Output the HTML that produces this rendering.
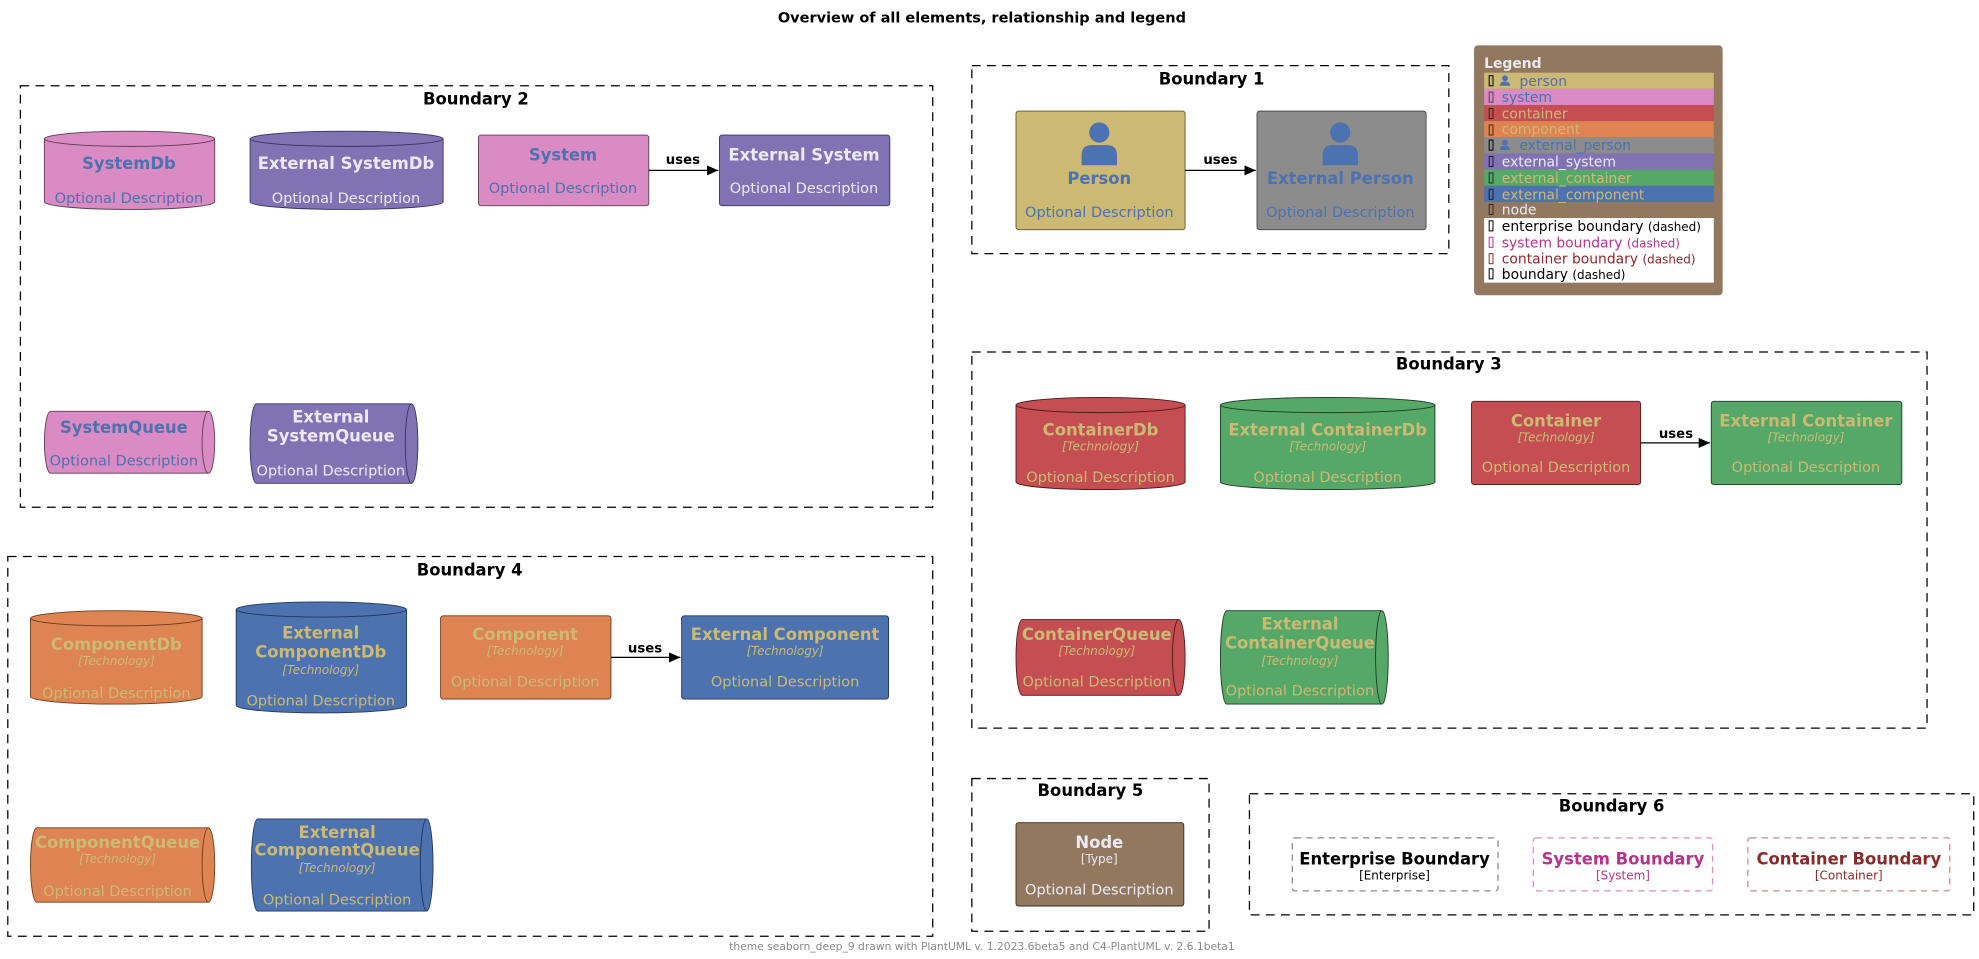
<!DOCTYPE html>
<html><head><meta charset="utf-8"><style>
html,body{margin:0;padding:0;background:#fff}
svg{display:block}
text{font-family:"DejaVu Sans","Liberation Sans",sans-serif}
.bt{font-size:13px;font-weight:bold;text-anchor:middle;fill:#000}
.t{font-size:13px;font-weight:bold;text-anchor:middle}
.d{font-size:11.5px;text-anchor:middle}
.k{font-size:9.5px;font-style:italic;text-anchor:middle}
.b{fill:none;stroke:#000;stroke-width:1;stroke-dasharray:7,5}
.u{font-size:10.5px;font-weight:bold;text-anchor:middle}
.lg{font-size:11px}
.qa{fill:none;stroke-width:0.7}
</style></head><body>
<svg width="1979" height="959" viewBox="0 0 1568 760" xmlns="http://www.w3.org/2000/svg">
<defs><marker id="ar" markerWidth="10" markerHeight="8" refX="9" refY="4" orient="auto" markerUnits="userSpaceOnUse"><path d="M0,0 L9,4 L0,8 Z" fill="#000"/></marker></defs>
<text x="778" y="18" class="u" style="font-size:11.5px">Overview of all elements, relationship and legend</text>

<!-- Boundary 2 -->
<rect x="16" y="68" width="723" height="334" class="b"/>
<text x="377" y="83" class="bt">Boundary 2</text>
<path d="M35,110 L35,160 A67.5,6 0 0 0 170,160 L170,110 A67.5,6 0 0 0 35,110 A67.5,6 0 0 0 170,110" fill="#DA8BC3" stroke="#5a3d50" stroke-width="0.7"/>
<text x="102" y="134" class="t" fill="#4C72B0">SystemDb</text>
<text x="102" y="161" class="d" fill="#4C72B0">Optional Description</text>
<path d="M198,110 L198,160 A76.5,6 0 0 0 351,160 L351,110 A76.5,6 0 0 0 198,110 A76.5,6 0 0 0 351,110" fill="#8172B3" stroke="#3a3260" stroke-width="0.7"/>
<text x="274" y="134" class="t" fill="#EAEAF2">External SystemDb</text>
<text x="274" y="161" class="d" fill="#EAEAF2">Optional Description</text>
<rect x="379" y="107" width="135" height="56" rx="2" fill="#DA8BC3" stroke="#5a3d50" stroke-width="0.7"/>
<text x="446" y="127" class="t" fill="#4C72B0">System</text>
<text x="446" y="153" class="d" fill="#4C72B0">Optional Description</text>
<rect x="570" y="107" width="135" height="56" rx="2" fill="#8172B3" stroke="#3a3260" stroke-width="0.7"/>
<text x="637" y="127" class="t" fill="#EAEAF2">External System</text>
<text x="637" y="153" class="d" fill="#EAEAF2">Optional Description</text>
<line x1="514" y1="135" x2="569" y2="135" stroke="#000" marker-end="url(#ar)"/>
<text x="541" y="130" class="u">uses</text>
<path d="M40,326 L165,326 A5,24.5 0 0 1 165,375 L40,375 A5,24.5 0 0 1 40,326 Z" fill="#DA8BC3" stroke="#5a3d50" stroke-width="0.7"/>
<path d="M165,326 A5,24.5 0 0 0 165,375" class="qa" stroke="#5a3d50"/>
<text x="98" y="343" class="t" fill="#4C72B0">SystemQueue</text>
<text x="98" y="369" class="d" fill="#4C72B0">Optional Description</text>
<path d="M203,320 L326,320 A5,31.5 0 0 1 326,383 L203,383 A5,31.5 0 0 1 203,320 Z" fill="#8172B3" stroke="#3a3260" stroke-width="0.7"/>
<path d="M326,320 A5,31.5 0 0 0 326,383" class="qa" stroke="#3a3260"/>
<text x="262" y="335" class="t" fill="#EAEAF2">External</text>
<text x="262" y="350" class="t" fill="#EAEAF2">SystemQueue</text>
<text x="262" y="377" class="d" fill="#EAEAF2">Optional Description</text>

<!-- Boundary 4 -->
<rect x="6" y="441" width="733" height="301" class="b"/>
<text x="372" y="456" class="bt">Boundary 4</text>
<path d="M24,490 L24,552 A68,6 0 0 0 160,552 L160,490 A68,6 0 0 0 24,490 A68,6 0 0 0 160,490" fill="#DD8452" stroke="#6b3a1c" stroke-width="0.7"/>
<text x="92" y="515" class="t" fill="#CCB974">ComponentDb</text>
<text x="92" y="527" class="k" fill="#CCB974">[Technology]</text>
<text x="92" y="553" class="d" fill="#CCB974">Optional Description</text>
<path d="M187,483 L187,559 A67.5,6 0 0 0 322,559 L322,483 A67.5,6 0 0 0 187,483 A67.5,6 0 0 0 322,483" fill="#4C72B0" stroke="#22365a" stroke-width="0.7"/>
<text x="254" y="506" class="t" fill="#CCB974">External</text>
<text x="254" y="521" class="t" fill="#CCB974">ComponentDb</text>
<text x="254" y="534" class="k" fill="#CCB974">[Technology]</text>
<text x="254" y="559" class="d" fill="#CCB974">Optional Description</text>
<rect x="349" y="488" width="135" height="66" rx="2" fill="#DD8452" stroke="#6b3a1c" stroke-width="0.7"/>
<text x="416" y="507" class="t" fill="#CCB974">Component</text>
<text x="416" y="519" class="k" fill="#CCB974">[Technology]</text>
<text x="416" y="544" class="d" fill="#CCB974">Optional Description</text>
<rect x="540" y="488" width="164" height="66" rx="2" fill="#4C72B0" stroke="#22365a" stroke-width="0.7"/>
<text x="622" y="507" class="t" fill="#CCB974">External Component</text>
<text x="622" y="519" class="k" fill="#CCB974">[Technology]</text>
<text x="622" y="544" class="d" fill="#CCB974">Optional Description</text>
<line x1="484" y1="521" x2="539" y2="521" stroke="#000" marker-end="url(#ar)"/>
<text x="511" y="517" class="u">uses</text>
<path d="M29,656 L165,656 A5,29.5 0 0 1 165,715 L29,715 A5,29.5 0 0 1 29,656 Z" fill="#DD8452" stroke="#6b3a1c" stroke-width="0.7"/>
<path d="M165,656 A5,29.5 0 0 0 165,715" class="qa" stroke="#6b3a1c"/>
<text x="93" y="672" class="t" fill="#CCB974">ComponentQueue</text>
<text x="93" y="684" class="k" fill="#CCB974">[Technology]</text>
<text x="93" y="710" class="d" fill="#CCB974">Optional Description</text>
<path d="M204,649 L338,649 A5,36.5 0 0 1 338,722 L204,722 A5,36.5 0 0 1 204,649 Z" fill="#4C72B0" stroke="#22365a" stroke-width="0.7"/>
<path d="M338,649 A5,36.5 0 0 0 338,722" class="qa" stroke="#22365a"/>
<text x="267" y="664" class="t" fill="#CCB974">External</text>
<text x="267" y="678" class="t" fill="#CCB974">ComponentQueue</text>
<text x="267" y="691" class="k" fill="#CCB974">[Technology]</text>
<text x="267" y="717" class="d" fill="#CCB974">Optional Description</text>

<!-- Boundary 1 -->
<rect x="770" y="52" width="378" height="149" class="b"/>
<text x="960" y="67" class="bt">Boundary 1</text>
<rect x="805" y="88" width="134" height="94" rx="2" fill="#CCB974" stroke="#5f5630" stroke-width="0.7"/>
<circle cx="871" cy="105" r="8" fill="#4C72B0"/>
<path d="M857,131 L857,123 Q857,115 865,115 L877,115 Q885,115 885,123 L885,131 Z" fill="#4C72B0"/>
<text x="871" y="146" class="t" fill="#4C72B0">Person</text>
<text x="871" y="172" class="d" fill="#4C72B0">Optional Description</text>
<rect x="996" y="88" width="134" height="94" rx="2" fill="#8C8C8C" stroke="#444" stroke-width="0.7"/>
<circle cx="1062" cy="105" r="8" fill="#4C72B0"/>
<path d="M1048,131 L1048,123 Q1048,115 1056,115 L1068,115 Q1076,115 1076,123 L1076,131 Z" fill="#4C72B0"/>
<text x="1062" y="146" class="t" fill="#4C72B0">External Person</text>
<text x="1062" y="172" class="d" fill="#4C72B0">Optional Description</text>
<line x1="939" y1="135" x2="995" y2="135" stroke="#000" marker-end="url(#ar)"/>
<text x="967" y="130" class="u">uses</text>

<!-- Legend -->
<rect x="1168" y="36" width="197" height="198" rx="3" fill="#937860"/>
<text x="1176" y="54" style="font-size:11px;font-weight:bold" fill="#EAEAF2">Legend</text>
<rect x="1176" y="57.6" width="182" height="12.8" fill="#CCB974"/>
<rect x="1176" y="70.4" width="182" height="12.8" fill="#DA8BC3"/>
<rect x="1176" y="83.2" width="182" height="12.8" fill="#C44E52"/>
<rect x="1176" y="96" width="182" height="12.8" fill="#DD8452"/>
<rect x="1176" y="108.8" width="182" height="12.8" fill="#8C8C8C"/>
<rect x="1176" y="121.6" width="182" height="12.8" fill="#8172B3"/>
<rect x="1176" y="134.4" width="182" height="12.8" fill="#55A868"/>
<rect x="1176" y="147.2" width="182" height="12.8" fill="#4C72B0"/>
<rect x="1176" y="172.8" width="182" height="51.2" fill="#fff"/>
<g fill="#4C72B0">
<circle cx="1192.5" cy="62" r="2.3"/><path d="M1188.5,68 Q1188.5,64.5 1192.5,64.5 Q1196.5,64.5 1196.5,68 Z"/>
<circle cx="1192.5" cy="113" r="2.3"/><path d="M1188.5,119 Q1188.5,115.5 1192.5,115.5 Q1196.5,115.5 1196.5,119 Z"/>
</g>
<g class="lg">
<text x="1204" y="68" fill="#4C72B0">person</text>
<text x="1190" y="81" fill="#4C72B0">system</text>
<text x="1190" y="94" fill="#CCB974">container</text>
<text x="1190" y="106" fill="#CCB974">component</text>
<text x="1204" y="119" fill="#4C72B0">external_person</text>
<text x="1190" y="132" fill="#EAEAF2">external_system</text>
<text x="1190" y="145" fill="#CCB974">external_container</text>
<text x="1190" y="158" fill="#CCB974">external_component</text>
<text x="1190" y="170" fill="#EAEAF2">node</text>
<text x="1190" y="183" fill="#000">enterprise boundary <tspan style="font-size:9.5px">(dashed)</tspan></text>
<text x="1190" y="196" fill="#B6338C">system boundary <tspan style="font-size:9.5px">(dashed)</tspan></text>
<text x="1190" y="209" fill="#8B2A2A">container boundary <tspan style="font-size:9.5px">(dashed)</tspan></text>
<text x="1190" y="221" fill="#000">boundary <tspan style="font-size:9.5px">(dashed)</tspan></text>
</g>
<g fill="none" stroke-width="0.8">
<rect x="1180" y="60" width="3" height="8" stroke="#000"/>
<rect x="1180" y="73" width="3" height="8" stroke="#5a3d50"/>
<rect x="1180" y="86" width="3" height="8" stroke="#4a1a1a"/>
<rect x="1180" y="99" width="3" height="8" stroke="#4a2a10"/>
<rect x="1180" y="111" width="3" height="8" stroke="#000"/>
<rect x="1180" y="124" width="3" height="8" stroke="#201a40"/>
<rect x="1180" y="137" width="3" height="8" stroke="#1a3a20"/>
<rect x="1180" y="150" width="3" height="8" stroke="#102040"/>
<rect x="1180" y="162" width="3" height="8" stroke="#3a2a1a"/>
<rect x="1180" y="175" width="3" height="8" stroke="#000"/>
<rect x="1180" y="188" width="3" height="8" stroke="#B6338C"/>
<rect x="1180" y="201" width="3" height="8" stroke="#8B2A2A"/>
<rect x="1180" y="213" width="3" height="8" stroke="#000"/>
</g>

<!-- Boundary 3 -->
<rect x="770" y="279" width="757" height="298" class="b"/>
<text x="1148" y="293" class="bt">Boundary 3</text>
<path d="M805,321 L805,382 A67,6 0 0 0 939,382 L939,321 A67,6 0 0 0 805,321 A67,6 0 0 0 939,321" fill="#C44E52" stroke="#4a1a1a" stroke-width="0.7"/>
<text x="872" y="345" class="t" fill="#CCB974">ContainerDb</text>
<text x="872" y="357" class="k" fill="#CCB974">[Technology]</text>
<text x="872" y="382" class="d" fill="#CCB974">Optional Description</text>
<path d="M967,321 L967,382 A85,6 0 0 0 1137,382 L1137,321 A85,6 0 0 0 967,321 A85,6 0 0 0 1137,321" fill="#55A868" stroke="#1a3a20" stroke-width="0.7"/>
<text x="1052" y="345" class="t" fill="#CCB974">External ContainerDb</text>
<text x="1052" y="357" class="k" fill="#CCB974">[Technology]</text>
<text x="1052" y="382" class="d" fill="#CCB974">Optional Description</text>
<rect x="1166" y="318" width="134" height="66" rx="2" fill="#C44E52" stroke="#4a1a1a" stroke-width="0.7"/>
<text x="1233" y="338" class="t" fill="#CCB974">Container</text>
<text x="1233" y="350" class="k" fill="#CCB974">[Technology]</text>
<text x="1233" y="374" class="d" fill="#CCB974">Optional Description</text>
<rect x="1356" y="318" width="151" height="66" rx="2" fill="#55A868" stroke="#1a3a20" stroke-width="0.7"/>
<text x="1431" y="338" class="t" fill="#CCB974">External Container</text>
<text x="1431" y="350" class="k" fill="#CCB974">[Technology]</text>
<text x="1431" y="374" class="d" fill="#CCB974">Optional Description</text>
<line x1="1300" y1="351" x2="1355" y2="351" stroke="#000" marker-end="url(#ar)"/>
<text x="1328" y="347" class="u">uses</text>
<path d="M810,491 L934,491 A5,30 0 0 1 934,551 L810,551 A5,30 0 0 1 810,491 Z" fill="#C44E52" stroke="#4a1a1a" stroke-width="0.7"/>
<path d="M934,491 A5,30 0 0 0 934,551" class="qa" stroke="#4a1a1a"/>
<text x="869" y="507" class="t" fill="#CCB974">ContainerQueue</text>
<text x="869" y="519" class="k" fill="#CCB974">[Technology]</text>
<text x="869" y="544" class="d" fill="#CCB974">Optional Description</text>
<path d="M972,484 L1095,484 A5,37 0 0 1 1095,558 L972,558 A5,37 0 0 1 972,484 Z" fill="#55A868" stroke="#1a3a20" stroke-width="0.7"/>
<path d="M1095,484 A5,37 0 0 0 1095,558" class="qa" stroke="#1a3a20"/>
<text x="1030" y="499" class="t" fill="#CCB974">External</text>
<text x="1030" y="514" class="t" fill="#CCB974">ContainerQueue</text>
<text x="1030" y="527" class="k" fill="#CCB974">[Technology]</text>
<text x="1030" y="551" class="d" fill="#CCB974">Optional Description</text>

<!-- Boundary 5 -->
<rect x="770" y="617" width="188" height="121" class="b"/>
<text x="864" y="631" class="bt">Boundary 5</text>
<rect x="805" y="652" width="133" height="66" rx="2" fill="#937860" stroke="#3a2a1a" stroke-width="0.7"/>
<text x="871" y="672" class="t" fill="#EAEAF2">Node</text>
<text x="871" y="684" style="font-size:9.5px;text-anchor:middle" fill="#EAEAF2">[Type]</text>
<text x="871" y="709" class="d" fill="#EAEAF2">Optional Description</text>

<!-- Boundary 6 -->
<rect x="990" y="629" width="574" height="96" class="b"/>
<text x="1277" y="643" class="bt">Boundary 6</text>
<rect x="1024" y="664" width="163" height="42" rx="2" fill="none" stroke="#888" stroke-dasharray="5,4"/>
<text x="1105" y="685" class="t" fill="#000">Enterprise Boundary</text>
<text x="1105" y="697" style="font-size:9.5px;text-anchor:middle" fill="#000">[Enterprise]</text>
<rect x="1215" y="664" width="142" height="42" rx="2" fill="none" stroke="#DA8BC3" stroke-dasharray="5,4"/>
<text x="1286" y="685" class="t" fill="#B6338C">System Boundary</text>
<text x="1286" y="697" style="font-size:9.5px;text-anchor:middle" fill="#B6338C">[System]</text>
<rect x="1385" y="664" width="160" height="42" rx="2" fill="none" stroke="#C88A8A" stroke-dasharray="5,4"/>
<text x="1465" y="685" class="t" fill="#8B2A2A">Container Boundary</text>
<text x="1465" y="697" style="font-size:9.5px;text-anchor:middle" fill="#8B2A2A">[Container]</text>

<text x="778" y="753" style="font-size:8.5px;text-anchor:middle" fill="#888">theme seaborn_deep_9 drawn with PlantUML v. 1.2023.6beta5 and C4-PlantUML v. 2.6.1beta1</text>
</svg>
</body></html>
